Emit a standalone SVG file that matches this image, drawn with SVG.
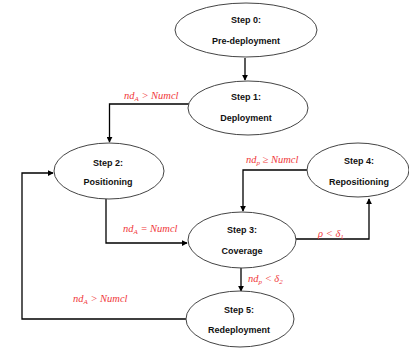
<svg xmlns="http://www.w3.org/2000/svg" width="409" height="348" viewBox="0 0 409 348">
<defs>
<marker id="ah" viewBox="0 0 8 8" refX="7" refY="4" markerWidth="6" markerHeight="6" markerUnits="userSpaceOnUse" orient="auto">
<path d="M0,0 L8,4 L0,8 z" fill="#000"/>
</marker>
<style>
.node ellipse{fill:#fff;stroke:#444;stroke-width:1}
.node text{font-family:"Liberation Sans",Arial,sans-serif;font-weight:bold;font-size:9px;fill:#111;text-anchor:middle}
.conn path{fill:none;stroke:#000;stroke-width:1.3;marker-end:url(#ah)}
.lbl{font-family:"Liberation Serif","Times New Roman",serif;font-style:italic;font-size:10.5px;fill:#f0383a}
.sub{font-size:7px}
</style>
</defs>
<rect width="409" height="348" fill="#fff"/>
<g class="conn">
<path d="M245,58 V80"/>
<path d="M189,104 H109.5 V142"/>
<path d="M307,170 H243 V211"/>
<path d="M106,199 V243 H187"/>
<path d="M296,239 H369 V199"/>
<path d="M241,268 V291"/>
<path d="M187,319 H22 V173 H53"/>
</g>
<g id="step0" class="node"><ellipse cx="246" cy="30" rx="71" ry="27"/><text x="246" y="23">Step 0:</text><text x="246" y="44">Pre-deployment</text></g>
<g id="step1" class="node"><ellipse cx="248" cy="108" rx="60" ry="27"/><text x="246" y="100">Step 1:</text><text x="246" y="121">Deployment</text></g>
<g id="step2" class="node"><ellipse cx="109" cy="171" rx="55" ry="28"/><text x="108" y="166">Step 2:</text><text x="108" y="185">Positioning</text></g>
<g id="step3" class="node"><ellipse cx="242" cy="240" rx="54" ry="28"/><text x="242" y="233">Step 3:</text><text x="242" y="254">Coverage</text></g>
<g id="step4" class="node"><ellipse cx="358" cy="170" rx="51" ry="27"/><text x="359" y="164">Step 4:</text><text x="359" y="185">Repositioning</text></g>
<g id="step5" class="node"><ellipse cx="240" cy="319" rx="54" ry="28"/><text x="239" y="313">Step 5:</text><text x="239" y="333">Redeployment</text></g>
<g id="labels">
<text class="lbl" x="124" y="99">nd<tspan class="sub" dy="2">A</tspan><tspan dy="-2"> &gt; Numcl</tspan></text>
<text class="lbl" x="246" y="163">nd<tspan class="sub" dy="2">p</tspan><tspan dy="-2"> ≥ Numcl</tspan></text>
<text class="lbl" x="123" y="232">nd<tspan class="sub" dy="2">A</tspan><tspan dy="-2"> = Numcl</tspan></text>
<text class="lbl" x="318" y="237">ρ &lt; δ<tspan class="sub" dy="2">1</tspan></text>
<text class="lbl" x="248" y="282">nd<tspan class="sub" dy="2">p</tspan><tspan dy="-2"> &lt; δ</tspan><tspan class="sub" dy="2">2</tspan></text>
<text class="lbl" x="73" y="302">nd<tspan class="sub" dy="2">A</tspan><tspan dy="-2"> &gt; Numcl</tspan></text>
</g>
</svg>
